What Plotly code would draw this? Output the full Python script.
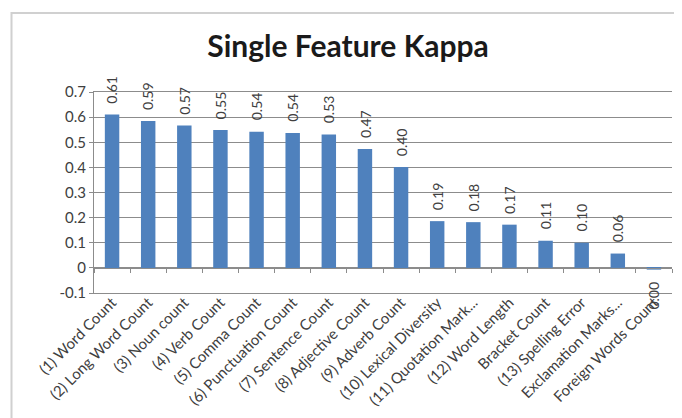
import plotly.graph_objects as go

categories = [
    "(1) Word Count", "(2) Long Word Count", "(3) Noun count", "(4) Verb Count",
    "(5) Comma Count", "(6) Punctuation Count", "(7) Sentence Count",
    "(8) Adjective Count", "(9) Adverb Count", "(10) Lexical Diversity",
    "(11) Quotation Mark...", "(12) Word Length", "Bracket Count",
    "(13) Spelling Error", "Exclamation Marks...", "Foreign Words Count",
]
kappa = [0.61, 0.585, 0.567, 0.549, 0.542, 0.537, 0.531, 0.473, 0.401,
         0.186, 0.182, 0.172, 0.108, 0.100, 0.057, -0.007]
value_labels = ["0.61", "0.59", "0.57", "0.55", "0.54", "0.54", "0.53", "0.47", "0.40",
                "0.19", "0.18", "0.17", "0.11", "0.10", "0.06", "0.00"]
y_ticks = [-0.1, 0, 0.1, 0.2, 0.3, 0.4, 0.5, 0.6, 0.7]
y_tick_labels = ["-0.1", "0", "0.1", "0.2", "0.3", "0.4", "0.5", "0.6", "0.7"]

FONT = "Lato"
GRID = "#8c8c8c"
TXT = "#404040"

# page body adds an 8px offset; figure is sized to fit the window
W, H = 674, 410
L, R, T, B = 86, 10, 84, 125

fig = go.Figure()
fig.add_trace(go.Bar(
    x=categories, y=kappa,
    marker=dict(color="#4f81bd", line=dict(width=0)),
    hoverinfo="x+y",
))
fig.add_trace(go.Scatter(
    x=categories, y=kappa, xaxis="x2", mode="markers",
    marker=dict(opacity=0, size=1), hoverinfo="skip", showlegend=False,
))

annotations = []
for cat, val, lab in zip(categories, kappa, value_labels):
    pos = val >= 0
    annotations.append(dict(
        x=cat, y=val, xref="x", yref="y", text=lab, showarrow=False,
        textangle=-90, xanchor="center",
        yanchor="bottom" if pos else "top",
        yshift=9 if pos else -10,
        font=dict(family=FONT, size=14, color=TXT),
    ))

pw = W - L - R
ph = H - T - B
xr = [-0.5, len(categories) - 0.5]
fig.update_layout(
    width=W, height=H,
    margin=dict(l=L, r=R, t=T, b=B, pad=0),
    paper_bgcolor="white", plot_bgcolor="white",
    showlegend=False,
    bargap=0.6,
    font=dict(family=FONT, color=TXT),
    title=dict(text="<b>Single Feature Kappa</b>", x=340 / W, xanchor="center",
               xref="container", y=1 - 38 / H, yanchor="middle", yref="container",
               font=dict(family=FONT, size=30, color="#1a1a1a")),
    xaxis=dict(
        type="category", range=xr, autorange=False,
        showgrid=False, zeroline=False, automargin=False,
        showline=True, linecolor=GRID, linewidth=1, mirror=True,
        ticks="", tickangle=-45, ticklabelstandoff=-6,
        tickfont=dict(family=FONT, size=15, color=TXT),
    ),
    xaxis2=dict(
        type="category", overlaying="x", matches="x", anchor="free",
        range=xr, autorange=False,
        position=0.125, side="bottom", automargin=False,
        showline=True, linecolor=GRID, linewidth=1,
        ticks="outside", tickson="boundaries", ticklen=4, tickcolor=GRID,
        showticklabels=False, showgrid=False, zeroline=False,
    ),
    yaxis=dict(
        range=[-0.1, 0.7], tickvals=y_ticks, ticktext=y_tick_labels,
        showgrid=True, gridcolor=GRID, gridwidth=1, zeroline=False,
        automargin=False,
        showline=True, linecolor=GRID, linewidth=1,
        ticks="outside", ticklen=4, tickcolor=GRID,
        tickfont=dict(family=FONT, size=15, color=TXT),
    ),
    annotations=annotations,
    shapes=[dict(
        type="rect", xref="paper", yref="paper",
        x0=(3.5 - L) / pw, x1=1.2,
        y0=-1.0, y1=1 + (T - 5) / ph,
        line=dict(color="#d0d0d0", width=2), fillcolor="rgba(0,0,0,0)",
        layer="below",
    )],
)

fig.write_html("out.html")
